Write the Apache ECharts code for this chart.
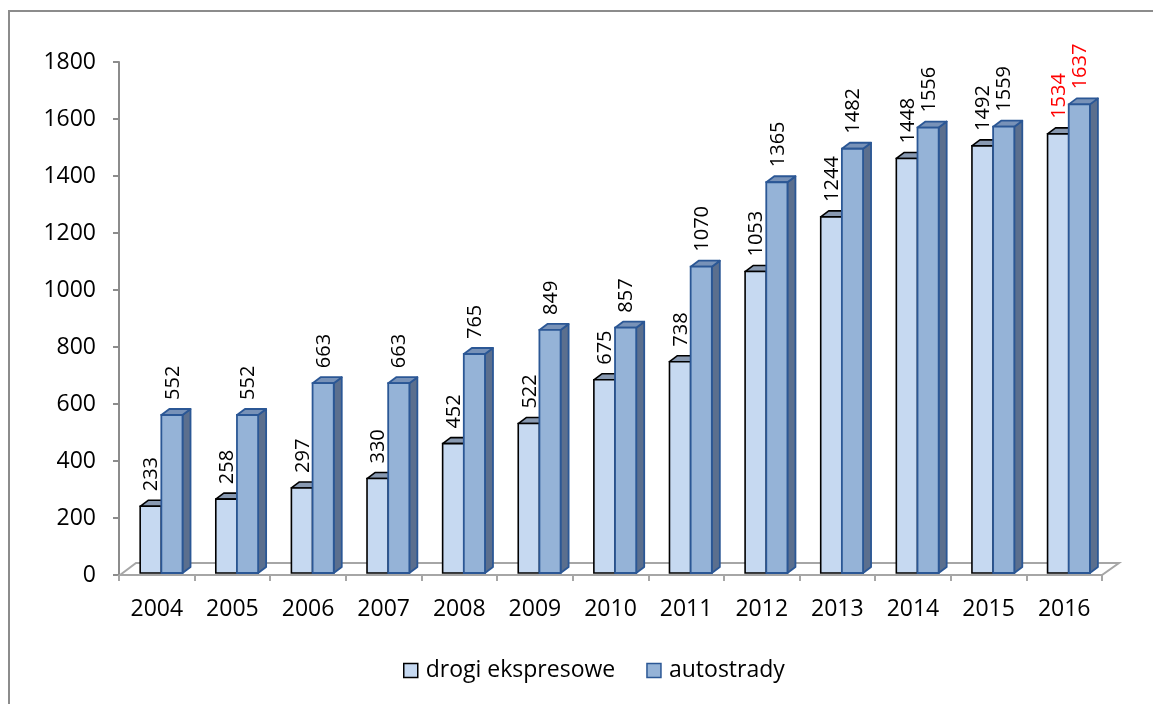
<!DOCTYPE html>
<html>
<head>
<meta charset="utf-8">
<script src="https://cdn.jsdelivr.net/npm/echarts@6/dist/echarts.min.js"></script>
<style>
html,body{margin:0;padding:0;background:#fff;}
#chart{width:1153px;height:704px;}
</style>
</head>
<body>
<div id="chart"></div>
<script>
var years = ['2004','2005','2006','2007','2008','2009','2010','2011','2012','2013','2014','2015','2016'];
var drogiEkspresowe = [233,258,297,330,452,522,675,738,1053,1244,1448,1492,1534];
var autostrady = [552,552,663,663,765,849,857,1070,1365,1482,1556,1559,1637];
var seriesNames = ['drogi ekspresowe','autostrady'];
var highlightYear = '2016';

var FONT = 'Open Sans';
var styles = [
  {front:'#c6d9f1', top:'#8899b1', side:'#6f819b', stroke:'#000000', lw:1.6},
  {front:'#95b3d7', top:'#7892b8', side:'#5b6f8e', stroke:'#2b5795', lw:1.8}
];

function makeRender(si){
  return function(params, api){
    var i = api.value(0), v = api.value(1);
    var base = api.coord([i, 0]);
    var top = api.coord([i, v]);
    var band = api.size([1, 0])[0];
    var w = band * 0.28;
    var cx = base[0] + band * 0.06;
    var x0 = si === 0 ? cx - w : cx;
    var yb = base[1] - 2, yt = top[1] - 2;
    var dx = 8, dy = 6;
    var s = styles[si];
    var col = years[i] === highlightYear ? '#ff0000' : '#000000';
    return {
      type:'group',
      children:[
        {type:'polygon', shape:{points:[[x0+w,yt],[x0+w+dx,yt-dy],[x0+w+dx,yb-dy],[x0+w,yb]]},
         style:{fill:s.side, stroke:s.stroke, lineWidth:s.lw, lineJoin:'round'}},
        {type:'polygon', shape:{points:[[x0,yt],[x0+dx,yt-dy],[x0+w+dx,yt-dy],[x0+w,yt]]},
         style:{fill:s.top, stroke:s.stroke, lineWidth:s.lw, lineJoin:'round'}},
        {type:'rect', shape:{x:x0, y:yt, width:w, height:yb-yt},
         style:{fill:s.front, stroke:s.stroke, lineWidth:s.lw}},
        {type:'text', x:x0 + w/2 + 1, y:yt - 15, rotation:Math.PI/2,
         style:{text:String(v), fill:col, font:'20px "'+FONT+'"', align:'left', verticalAlign:'middle'}}
      ]
    };
  };
}

function renderFloor(params, api){
  var c = params.coordSys;
  var yb = c.y + c.height, x = c.x, w = c.width;
  var dx = 17, dy = 12;
  return {
    type:'polygon',
    shape:{points:[[x+1,yb],[x+dx,yb-dy],[x+w+dx,yb-dy],[x+w,yb]]},
    style:{fill:'#ffffff', stroke:'#a6a6a6', lineWidth:2},
    z2:-1
  };
}

var chart = echarts.init(document.getElementById('chart'));
chart.setOption({
  animation:false,
  backgroundColor:'#ffffff',
  graphic:[{type:'rect', shape:{x:9, y:11, width:1300, height:900}, style:{fill:'none', stroke:'#8c8c8c', lineWidth:2}, z:100}],
  grid:{left:119, right:51, top:62, bottom:129},
  xAxis:{
    type:'category', data:years, boundaryGap:true,
    axisLine:{show:true, lineStyle:{color:'#a6a6a6', width:2}},
    axisTick:{show:true, length:6, lineStyle:{color:'#a6a6a6', width:2}},
    axisLabel:{color:'#000', fontFamily:FONT, fontSize:23, margin:23}
  },
  yAxis:[{
    type:'value', min:0, max:1800, interval:200,
    axisLine:{show:true, lineStyle:{color:'#8c8c8c', width:2}},
    axisTick:{show:true, length:6, lineStyle:{color:'#8c8c8c', width:2}},
    splitLine:{show:false},
    axisLabel:{color:'#000', fontFamily:FONT, fontSize:23, margin:23,
      formatter:function(v){return String(v);}}
  },{
    type:'value', min:0, max:1792, show:false, splitLine:{show:false}
  }],
  legend:{
    left:398, top:654, itemWidth:14, itemHeight:14, itemGap:31, icon:'rect',
    textStyle:{color:'#000', fontFamily:FONT, fontSize:23, padding:[0,0,0,3]},
    data:[
      {name:seriesNames[0], itemStyle:{color:styles[0].front, borderColor:styles[0].stroke, borderWidth:1.5}},
      {name:seriesNames[1], itemStyle:{color:styles[1].front, borderColor:styles[1].stroke, borderWidth:1.5}}
    ]
  },
  series:[
    {type:'custom', name:'floor', renderItem:renderFloor, data:[[0,0]], yAxisIndex:1, silent:true, z:1},
    {type:'custom', name:seriesNames[0], renderItem:makeRender(0), yAxisIndex:1, z:2,
     itemStyle:{color:styles[0].front},
     data:drogiEkspresowe.map(function(v,i){return [i,v];})},
    {type:'custom', name:seriesNames[1], renderItem:makeRender(1), yAxisIndex:1, z:3,
     itemStyle:{color:styles[1].front},
     data:autostrady.map(function(v,i){return [i,v];})}
  ]
});
</script>
</body>
</html>
